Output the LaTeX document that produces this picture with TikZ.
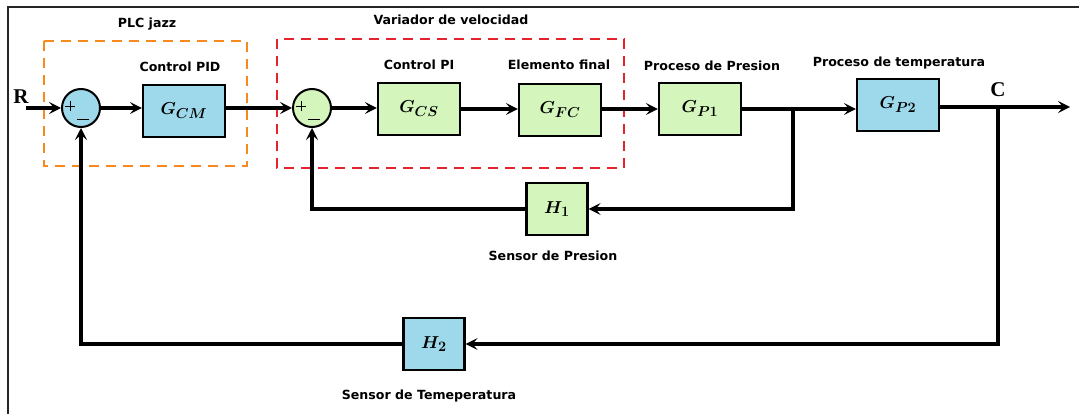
\documentclass[tikz,border=0pt]{standalone}
\usepackage{fontspec}
\usepackage{amsmath}
\usepackage{bm}
\setsansfont{DejaVu Sans}
\setmainfont{Liberation Serif}
\usetikzlibrary{arrows.meta,calc}
\definecolor{boxblue}{HTML}{9DD9EA}
\definecolor{boxgreen}{HTML}{D4F5BC}
\definecolor{dashorange}{HTML}{F78A1E}
\definecolor{dashred}{HTML}{E5232E}
\tikzset{
  blk/.style={draw=black, line width=2.2pt, minimum width=82pt, minimum height=52pt, inner sep=0pt},
  hblk/.style={draw=black, line width=2.2pt, minimum width=61pt, minimum height=52pt, inner sep=0pt},
  sumnode/.style={circle, draw=black, line width=2pt, minimum size=38pt, inner sep=0pt},
  lbl/.style={font=\sffamily\bfseries\fontsize{12.6}{14}\selectfont, inner sep=0pt},
  sig/.style={line width=3.2pt, -{Stealth[length=12pt,width=12pt,inset=5pt]}},
  ln/.style={line width=3.2pt},
  grp/.style={line width=2.2pt, dash pattern=on 10pt off 7pt},
  tf/.style={font=\fontsize{19}{21}\selectfont},
  signline/.style={line width=0.9pt}
}
\begin{document}
\begin{tikzpicture}[x=1pt,y=-1pt]
\useasboundingbox (0,0) rectangle (1079,414);
% frame
\draw[line width=2pt, draw=black!85] (1079,7) -- (8,7) -- (8,414);
% groups
\draw[grp, draw=dashorange] (44,41) rectangle (247,166);
\draw[grp, draw=dashred] (277,39) rectangle (624,168);
% nodes
\node[sumnode, fill=boxblue] (s1) at (81,108) {};
\node[sumnode, fill=boxgreen] (s2) at (312,108) {};
\node[blk, fill=boxblue, tf] (gcm) at (184,111) {$\bm{G_{CM}}$};
\node[blk, fill=boxgreen, tf] (gcs) at (419,109) {$\bm{G_{CS}}$};
\node[blk, fill=boxgreen, tf] (gfc) at (560,110) {$\bm{G_{FC}}$};
\node[blk, fill=boxgreen, tf] (gp1) at (700,109) {$\bm{G_{P1}}$};
\node[blk, fill=boxblue, tf] (gp2) at (898,105) {$\bm{G_{P2}}$};
\node[hblk, fill=boxgreen, tf] (h1) at (557,209) {$\bm{H_{1}}$};
\node[hblk, fill=boxblue, tf] (h2) at (434,344) {$\bm{H_{2}}$};
% signs
\foreach \s in {s1,s2}{
  \draw[signline] ($(\s)+(-16,-2)$) -- ($(\s)+(-6,-2)$);
  \draw[signline] ($(\s)+(-11,-7)$) -- ($(\s)+(-11,3)$);
  \draw[signline] ($(\s)+(-4,11)$) -- ($(\s)+(8,11)$);
}
% labels
\node[lbl] (lplc) at (147,24) {PLC jazz};
\node[lbl] (lpid) at (180,67) {Control PID};
\node[lbl] (lvar) at (451,20) {Variador de velocidad};
\node[lbl] (lpi) at (419,65) {Control PI};
\node[lbl] (lef) at (559,65) {Elemento final};
\node[lbl] (lpp) at (712,66) {Proceso de Presion};
\node[lbl] (lpt) at (899,63) {Proceso de temperatura};
\node[lbl] (lsp) at (553,256) {Sensor de Presion};
\node[lbl] (lst) at (429,396) {Sensor de Temeperatura};
\node[font=\bfseries\fontsize{21}{21}\selectfont, inner sep=0pt] (lr) at (21,97) {R};
\node[font=\bfseries\fontsize{21}{21}\selectfont, inner sep=0pt] (lc) at (998,90) {C};
% coordinates
\coordinate (rin) at (26,108);
\coordinate (b1) at (793,109);
\coordinate (b2) at (998,107);
\coordinate (out) at (1070,107);
% connectors
\draw[sig] (rin) -- (s1.west);
\draw[sig] (s1.east) -- (s1.east -| gcm.west);
\draw[sig] (gcm.east |- s2) -- (s2.west);
\draw[sig] (s2.east) -- (s2.east -| gcs.west);
\draw[sig] (gcs.east) -- (gcs.east -| gfc.west);
\draw[sig] (gfc.east |- gp1) -- (gp1.west);
\draw[ln] (gp1.east) -- (b1);
\draw[sig] (b1) -- (b1 -| gp2.west);
\draw[ln] (gp2.east |- b2) -- (b2);
\draw[sig] (b2) -- (out);
\draw[sig] (b1) |- (h1.east);
\draw[sig] (h1.west) -| (s2.south);
\draw[sig] (b2) |- (h2.east);
\draw[sig] (h2.west) -| (s1.south);
\end{tikzpicture}
\end{document}
